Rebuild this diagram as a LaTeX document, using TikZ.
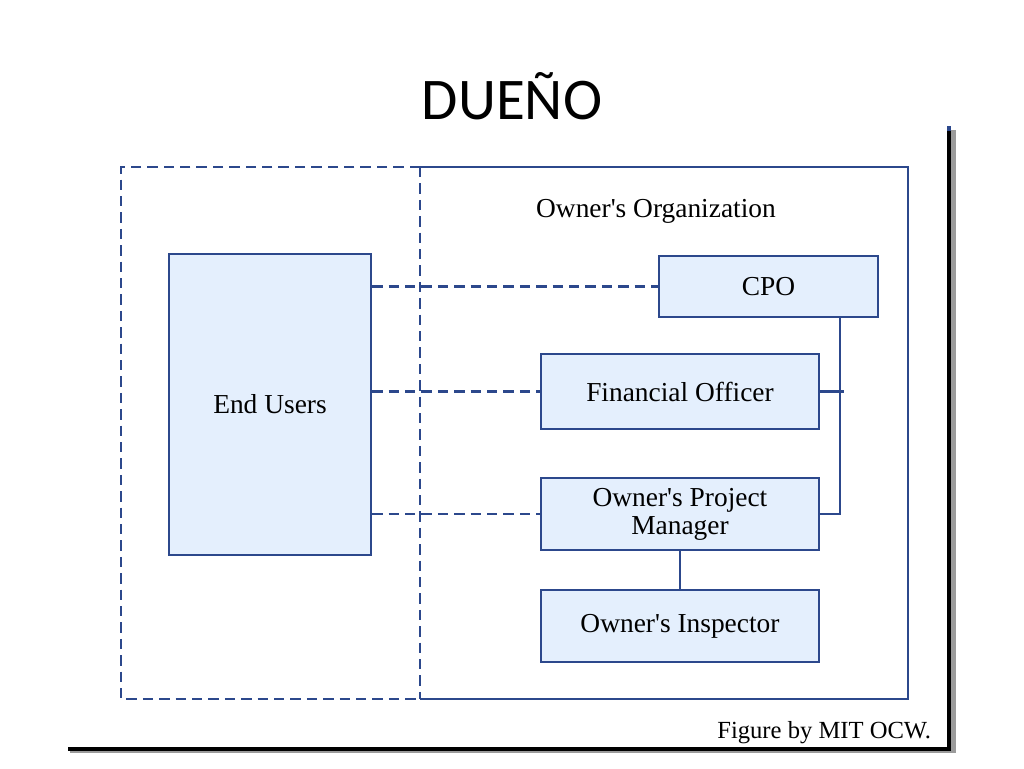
\documentclass[tikz,border=0pt]{standalone}
\usepackage{fontspec}
\setmainfont{Liberation Serif}
\newfontfamily\titlefont{Carlito}
\usetikzlibrary{positioning}
\definecolor{orgblue}{RGB}{44,72,140}
\definecolor{boxfill}{RGB}{228,239,253}
\definecolor{shadowgray}{RGB}{155,155,155}
\newcommand{\qt}{\textquotesingle}
\tikzset{
  unit/.style={draw=orgblue, fill=boxfill, line width=0.6mm, inner sep=0pt,
    align=center, font=\fontsize{19.5}{20}\selectfont},
  link/.style={draw=orgblue, line width=0.6mm, dash pattern=on 2.6mm off 1.5mm},
  tie/.style={draw=orgblue, line width=0.6mm},
}
\begin{document}
\begin{tikzpicture}[x=0.25mm, y=-0.25mm, line join=miter]
  \useasboundingbox (0,0) rectangle (1024,768);
  % title
  \node (title) at (512,96) {\titlefont\fontsize{42}{42}\selectfont DUEÑO};
  % frames
  \draw[tie] (420,167) -- (908,167) -- (908,699) -- (420,699);
  \draw[link] (420,167) -- (121,167) -- (121,699) -- (420,699);
  \draw[link] (420,167) -- (420,699);
  \node[font=\fontsize{19.5}{19.5}\selectfont] (orgname) at (656,211) {Owner\qt s Organization};
  % boxes
  \node[unit, minimum width=50.5mm, minimum height=75.25mm] (users) at (270,404.5) {End Users};
  \node[unit, minimum width=54.75mm, minimum height=15.25mm] (cpo) at (768.5,286.5) {CPO};
  \node[unit, minimum width=69.5mm, minimum height=18.75mm] (fo) at (680,391.5) {Financial Officer};
  \node[unit, minimum width=69.5mm, minimum height=18mm] (opm) at (680,514) {Owner\qt s Project\\Manager};
  \node[unit, minimum width=69.5mm, minimum height=18mm] (insp) at (680,626) {Owner\qt s Inspector};
  % connectors
  \coordinate (spine) at (840,0);
  \coordinate (tick) at (844,391.5);
  \draw[link] (users.east |- cpo.west) -- (cpo.west);
  \draw[link] (users.east |- fo.west) -- (fo.west);
  \draw[link] (users.east |- opm.west) -- (opm.west);
  \draw[tie] (cpo.south -| spine) -- (spine |- opm.east) -- (opm.east);
  \draw[tie] (fo.east) -- (tick);
  \draw[tie] (opm.south) -- (insp.north);
  % page edge
  \fill[shadowgray] (951,130) rectangle (956,753);
  \fill[shadowgray] (70,750) rectangle (956,753);
  \fill[black] (947,126) rectangle (951,751);
  \fill[black] (68,747) rectangle (951,751);
  \fill[orgblue] (947,126) rectangle (951,131);
  \node[anchor=base east, font=\fontsize{17.5}{17.5}\selectfont] (credit) at (936,738) {Figure by MIT OCW.};
\end{tikzpicture}
\end{document}
